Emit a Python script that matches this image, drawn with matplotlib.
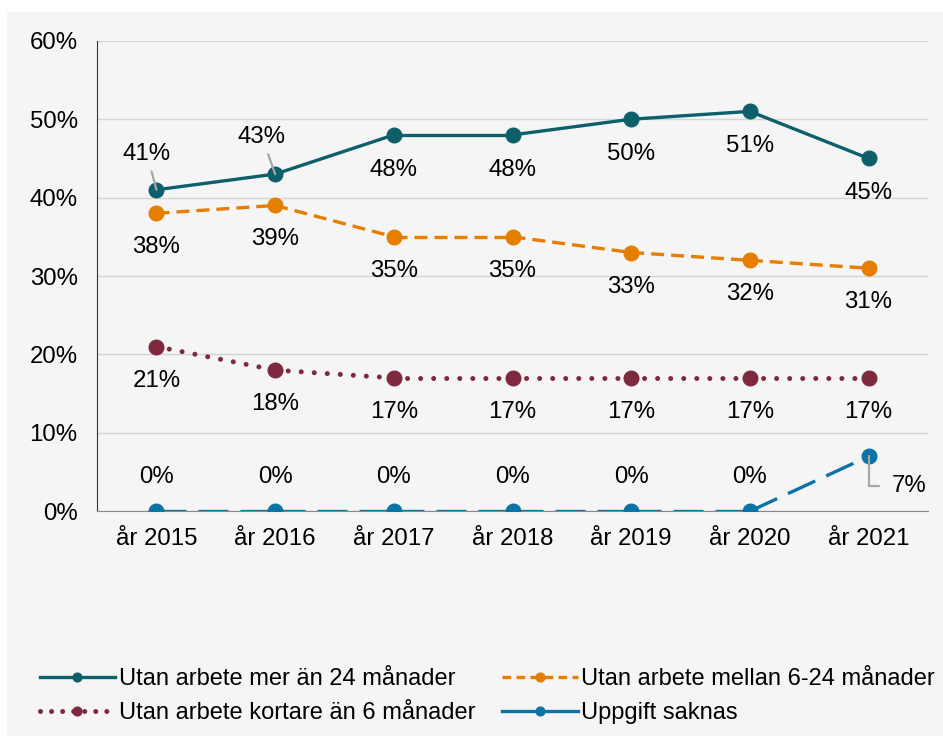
import matplotlib.pyplot as plt
from matplotlib.ticker import PercentFormatter

plt.rcParams['font.family'] = ['Liberation Sans', 'DejaVu Sans']

years = ["år 2015", "år 2016", "år 2017", "år 2018", "år 2019", "år 2020", "år 2021"]
mer_24 = [41, 43, 48, 48, 50, 51, 45]
mellan_6_24 = [38, 39, 35, 35, 33, 32, 31]
kortare_6 = [21, 18, 17, 17, 17, 17, 17]
saknas = [0, 0, 0, 0, 0, 0, 7]

teal = "#0d5f6c"
orange = "#e67e00"
maroon = "#7d2a3e"
blue = "#0b74a6"
grey = "#a6a6a6"
fs = 17.3

fig = plt.figure(figsize=(9.43, 7.42), dpi=100)
fig.patch.set_facecolor("white")
bg = plt.Rectangle((0.007, 0.008), 0.993, 0.976, transform=fig.transFigure,
                   facecolor="#f5f5f5", edgecolor="none", zorder=-10)
fig.patches.append(bg)

ax = fig.add_axes([0.103, 0.311, 0.881, 0.634])
ax.set_facecolor("none")
x = list(range(len(years)))


def series(vals, color, lw, ls, cap="butt"):
    # dash pattern restarts at every point, like the original chart
    for j in range(len(vals) - 1):
        ax.plot(x[j:j + 2], vals[j:j + 2], color=color, lw=lw, ls=ls,
                dash_capstyle=cap, zorder=3)
    ax.plot(x, vals, color=color, ls="none", marker="o", ms=10.5, zorder=4)


series(mer_24, teal, 2.4, "-")
series(mellan_6_24, orange, 2.4, (0, (3.9, 2.1)))
series(kortare_6, maroon, 3.6, (0, (0.01, 2.6)), cap="round")
series(saknas, blue, 2.4, (0, (9, 3.6)))

h1, = ax.plot([], [], color=teal, lw=2.4, marker="o", ms=10.5, label="Utan arbete mer än 24 månader")
h2, = ax.plot([], [], color=orange, lw=2.4, ls=(0, (2.6, 1.6)), marker="o", ms=10.5,
              label="Utan arbete mellan 6-24 månader")
h3, = ax.plot([], [], color=maroon, lw=3.6, ls=(0, (0.01, 2.2)), dash_capstyle="round",
              marker="o", ms=10.5, label="Utan arbete kortare än 6 månader")
h4, = ax.plot([], [], color=blue, lw=2.4, marker="o", ms=10.5, label="Uppgift saknas")

ax.set_ylim(0, 60)
ax.set_xlim(-0.5, len(years) - 0.5)
ax.set_yticks(range(0, 61, 10))
ax.yaxis.set_major_formatter(PercentFormatter(decimals=0))
ax.set_xticks(x)
ax.set_xticklabels(years)
ax.tick_params(axis="both", labelsize=fs, length=0)
ax.tick_params(axis="x", pad=12)
ax.tick_params(axis="y", pad=14)
ax.grid(axis="y", color="#d4d4d4", lw=1)
ax.set_axisbelow(True)
for s in ["top", "right"]:
    ax.spines[s].set_visible(False)
ax.spines["left"].set_color("#333333")
ax.spines["bottom"].set_color("#888888")

lead = dict(arrowstyle="-", color=grey, lw=1.6, shrinkA=3, shrinkB=0)

# data labels
for i, v in enumerate(mer_24):
    if i == 0:
        ax.annotate(f"{v}%", (i, v), xytext=(-7, 26), textcoords="offset points",
                    ha="center", va="center", fontsize=fs, arrowprops=lead, zorder=5)
    elif i == 1:
        ax.annotate(f"{v}%", (i, v), xytext=(-9.5, 27), textcoords="offset points",
                    ha="center", va="center", fontsize=fs, arrowprops=lead, zorder=5)
    else:
        ax.annotate(f"{v}%", (i, v), xytext=(0, -25), textcoords="offset points",
                    ha="center", va="center", fontsize=fs)
for i, v in enumerate(mellan_6_24):
    ax.annotate(f"{v}%", (i, v), xytext=(0, -24.5), textcoords="offset points",
                ha="center", va="center", fontsize=fs)
for i, v in enumerate(kortare_6):
    ax.annotate(f"{v}%", (i, v), xytext=(0, -24.5), textcoords="offset points",
                ha="center", va="center", fontsize=fs)
for i, v in enumerate(saknas):
    if i == 6:
        ax.annotate(f"{v}%", (i, v), xytext=(29, -21), textcoords="offset points",
                    ha="center", va="center", fontsize=fs, zorder=5,
                    arrowprops=dict(arrowstyle="-", color=grey, lw=1.6,
                                    connectionstyle="angle,angleA=0,angleB=90,rad=0",
                                    shrinkA=7, shrinkB=0))
    else:
        ax.annotate(f"{v}%", (i, v), xytext=(0, 24.5), textcoords="offset points",
                    ha="center", va="center", fontsize=fs)

# legend rows: teal/orange on top, maroon/blue below
fig.legend([h1, h3, h2, h4], [h.get_label() for h in [h1, h3, h2, h4]],
           loc="lower left", bbox_to_anchor=(0.042, 0.024), ncol=2, frameon=False,
           fontsize=17, handlelength=3.2, handletextpad=0.15, columnspacing=1.15,
           labelspacing=0.5, markerscale=0.6, borderpad=0, borderaxespad=0)

fig.savefig("out.png", dpi=100)
